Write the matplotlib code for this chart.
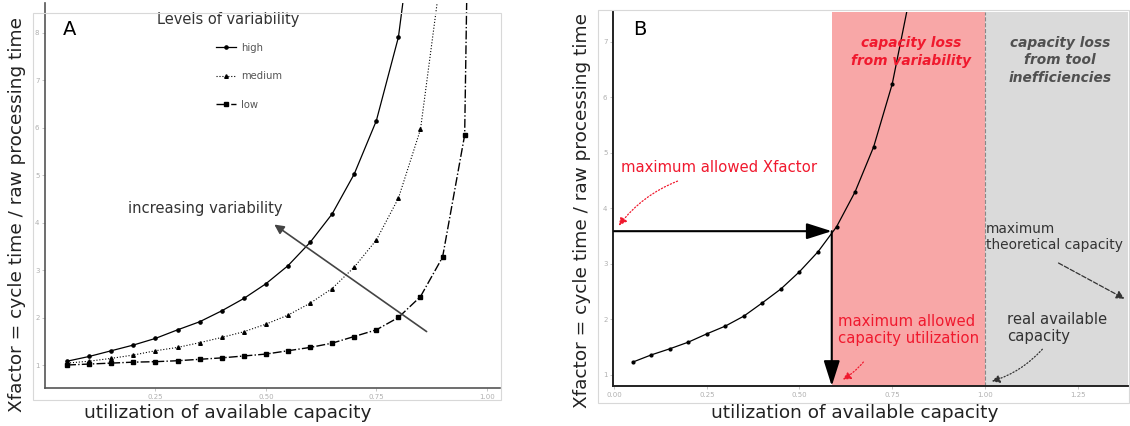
import matplotlib
matplotlib.use("Agg")
import matplotlib.pyplot as plt
from matplotlib.patches import Rectangle
from matplotlib.lines import Line2D

plt.rcParams["font.family"] = ["DejaVu Sans"]

# panel A: Xfactor vs utilization for three variability levels
util_high = [0.05, 0.10, 0.15, 0.20, 0.25, 0.30, 0.35, 0.40, 0.45, 0.50,
             0.55, 0.60, 0.65, 0.70, 0.75, 0.80, 0.85]
xf_high = [1.09, 1.19, 1.31, 1.43, 1.57, 1.75, 1.92, 2.15, 2.41, 2.72,
           3.10, 3.59, 4.19, 5.03, 6.15, 7.91, 11.5]
util_medium = [0.05, 0.10, 0.15, 0.20, 0.25, 0.30, 0.35, 0.40, 0.45, 0.50,
               0.55, 0.60, 0.65, 0.70, 0.75, 0.80, 0.85, 0.90]
xf_medium = [1.05, 1.09, 1.15, 1.22, 1.31, 1.38, 1.48, 1.59, 1.71, 1.87,
             2.06, 2.31, 2.62, 3.07, 3.64, 4.52, 5.97, 9.5]
util_low = [0.05, 0.10, 0.15, 0.20, 0.25, 0.30, 0.35, 0.40, 0.45, 0.50,
            0.55, 0.60, 0.65, 0.70, 0.75, 0.80, 0.85, 0.90, 0.95, 0.96]
xf_low = [1.01, 1.03, 1.05, 1.07, 1.08, 1.10, 1.13, 1.16, 1.20, 1.24,
          1.31, 1.38, 1.47, 1.61, 1.75, 2.01, 2.45, 3.28, 5.85, 12.0]

# panel B: one curve plus the limits
util_b = [0.05, 0.10, 0.15, 0.20, 0.25, 0.30, 0.35, 0.40, 0.45, 0.50,
          0.55, 0.60, 0.65, 0.70, 0.75, 0.80]
xf_b = [1.23, 1.36, 1.47, 1.59, 1.74, 1.88, 2.06, 2.30, 2.55, 2.86,
        3.22, 3.67, 4.30, 5.11, 6.24, 7.9]
max_xfactor = 3.59
max_util = 0.587
real_capacity = 1.0

xticks_a = [0.25, 0.50, 0.75, 1.00]
yticks_a = [1, 2, 3, 4, 5, 6, 7, 8]
xticks_b = [0.00, 0.25, 0.50, 0.75, 1.00, 1.25]
yticks_b = [1, 2, 3, 4, 5, 6, 7]

RED = "#f0192e"
PINK = "#f8a7a7"
GREY = "#dadada"

W, H = 1130, 426
fig = plt.figure(figsize=(W / 100, H / 100), dpi=100)


def px_axes(l, t, r, b):
    return fig.add_axes([l / W, 1 - b / H, (r - l) / W, (b - t) / H])


def frame(l, t, r, b):
    fig.patches.append(Rectangle((l / W, 1 - b / H), (r - l) / W, (b - t) / H,
                                 transform=fig.transFigure, fill=False,
                                 ec="#d8d8d8", lw=0.8, zorder=0))


def style_axes(ax, spine_col, spine_lw):
    for s in ["top", "right"]:
        ax.spines[s].set_visible(False)
    for s in ["left", "bottom"]:
        ax.spines[s].set_color(spine_col)
        ax.spines[s].set_linewidth(spine_lw)
    ax.tick_params(length=2, width=0.6, color="#bbbbbb", labelsize=5,
                   labelcolor="#b0b0b0", pad=2)


frame(33, 13, 501, 400)
frame(598, 10, 1129, 403)

# ---------- panel A ----------
axA = px_axes(45, 3, 500, 388)
style_axes(axA, "#555555", 1.2)
axA.plot(util_high, xf_high, color="black", lw=0.9, ls="-",
         marker="o", ms=2.3)
axA.plot(util_medium, xf_medium, color="black", lw=0.8, ls=":",
         marker="^", ms=2.6)
axA.plot(util_low, xf_low, color="black", lw=1.0, ls="-.",
         marker="s", ms=2.8)
axA.set_xlim(0.0, 1.03)
axA.set_ylim(0.526, 8.63)
axA.set_xticks(xticks_a)
axA.set_xticklabels(["%.2f" % v for v in xticks_a])
axA.set_yticks(yticks_a)

axA.text(0.055, 0.93, "A", transform=axA.transAxes, fontsize=14,
         ha="center", va="center")
axA.text(0.402, 0.958, "Levels of variability", transform=axA.transAxes,
         fontsize=10.5, ha="center", va="center", color="#333333")
handles = [
    Line2D([], [], color="black", lw=0.9, ls="-", marker="o", ms=2.3),
    Line2D([], [], color="black", lw=0.8, ls=":", marker="^", ms=2.6),
    Line2D([], [], color="black", lw=1.0, ls="-.", marker="s", ms=2.8),
]
axA.legend(handles, ["high", "medium", "low"], loc="upper left",
           bbox_to_anchor=(0.375, 0.897), frameon=False, fontsize=7.2,
           labelcolor="#555555", labelspacing=1.85, handlelength=2.0,
           handletextpad=0.5, borderpad=0, borderaxespad=0)

axA.annotate("", xy=(0.514, 4.0), xytext=(0.869, 1.68),
             arrowprops=dict(arrowstyle="-|>", color="#444444", lw=1.2,
                             mutation_scale=14))
axA.text(0.363, 4.31, "increasing variability", fontsize=10.6,
         ha="center", va="center", color="#333333")

# ---------- panel B ----------
axB = px_axes(613, 12, 1128, 386)
style_axes(axB, "#222222", 1.4)
axB.set_xlim(-0.003, 1.386)
axB.set_ylim(0.80, 7.54)
axB.axvspan(max_util, real_capacity, color=PINK, lw=0, zorder=0)
axB.axvspan(real_capacity, 1.386, color=GREY, lw=0, zorder=0)
axB.axvline(real_capacity, color="#888888", lw=0.8, ls="--", zorder=1)
axB.plot(util_b, xf_b, color="black", lw=0.9, marker="o", ms=2.0, zorder=3)
axB.set_xticks(xticks_b)
axB.set_xticklabels(["%.2f" % v for v in xticks_b])
axB.set_yticks(yticks_b)

head = "-|>,head_length=1.1,head_width=0.35"
axB.annotate("", xy=(max_util, max_xfactor), xytext=(0.0, max_xfactor),
             arrowprops=dict(arrowstyle=head, color="black", lw=1.5,
                             mutation_scale=14, shrinkA=0, shrinkB=0),
             zorder=4)
axB.annotate("", xy=(max_util, 0.80), xytext=(max_util, max_xfactor),
             arrowprops=dict(arrowstyle=head, color="black", lw=1.5,
                             mutation_scale=14, shrinkA=0, shrinkB=0),
             zorder=4)

axB.text(0.052, 0.952, "B", transform=axB.transAxes, fontsize=14,
         ha="center", va="center")
axB.text(0.80, 6.82, "capacity loss\nfrom variability", color=RED,
         fontsize=9.9, fontweight="bold", fontstyle="italic",
         ha="center", va="center", linespacing=1.3)
axB.text(1.203, 6.67, "capacity loss\nfrom tool\ninefficiencies",
         color="#505050", fontsize=9.9, fontweight="bold",
         fontstyle="italic", ha="center", va="center", linespacing=1.3)

axB.text(0.019, 4.73, "maximum allowed Xfactor", color=RED, fontsize=10.7,
         ha="left", va="center")
axB.annotate("", xy=(0.008, 3.65), xytext=(0.178, 4.51),
             arrowprops=dict(arrowstyle="-|>", color=RED, lw=0.9, ls=":",
                             connectionstyle="arc3,rad=0.15",
                             mutation_scale=12))

axB.text(0.604, 1.81, "maximum allowed\ncapacity utilization", color=RED,
         fontsize=10.7, ha="left", va="center", linespacing=1.15)
axB.annotate("", xy=(0.61, 0.89), xytext=(0.677, 1.27),
             arrowprops=dict(arrowstyle="-|>", color=RED, lw=0.9, ls=":",
                             connectionstyle="arc3,rad=-0.1",
                             mutation_scale=12))

axB.text(1.003, 3.49, "maximum\ntheoretical capacity", color="#333333",
         fontsize=9.9, ha="left", va="center", linespacing=1.2)
axB.annotate("", xy=(1.383, 2.35), xytext=(1.192, 3.04),
             arrowprops=dict(arrowstyle="-|>", color="#333333", lw=0.9,
                             ls="--", mutation_scale=12))

axB.text(1.06, 1.85, "real available\ncapacity", color="#333333",
         fontsize=10.7, ha="left", va="center", linespacing=1.15)
axB.annotate("", xy=(1.011, 0.87), xytext=(1.16, 1.50),
             arrowprops=dict(arrowstyle="-|>", color="#333333", lw=0.9,
                             ls=":", connectionstyle="arc3,rad=-0.15",
                             mutation_scale=12))

# axis titles
ylab = "Xfactor = cycle time / raw processing time"
xlab = "utilization of available capacity"
fig.text(17 / W, 1 - 214 / H, ylab, rotation=90, fontsize=13.3,
         ha="center", va="center", color="#222222")
fig.text(582 / W, 1 - 210 / H, ylab, rotation=90, fontsize=13.3,
         ha="center", va="center", color="#222222")
fig.text(228 / W, 1 - 413 / H, xlab, fontsize=13.3, ha="center",
         va="center", color="#222222")
fig.text(855 / W, 1 - 413 / H, xlab, fontsize=13.3, ha="center",
         va="center", color="#222222")

fig.savefig("out.png", dpi=100)
